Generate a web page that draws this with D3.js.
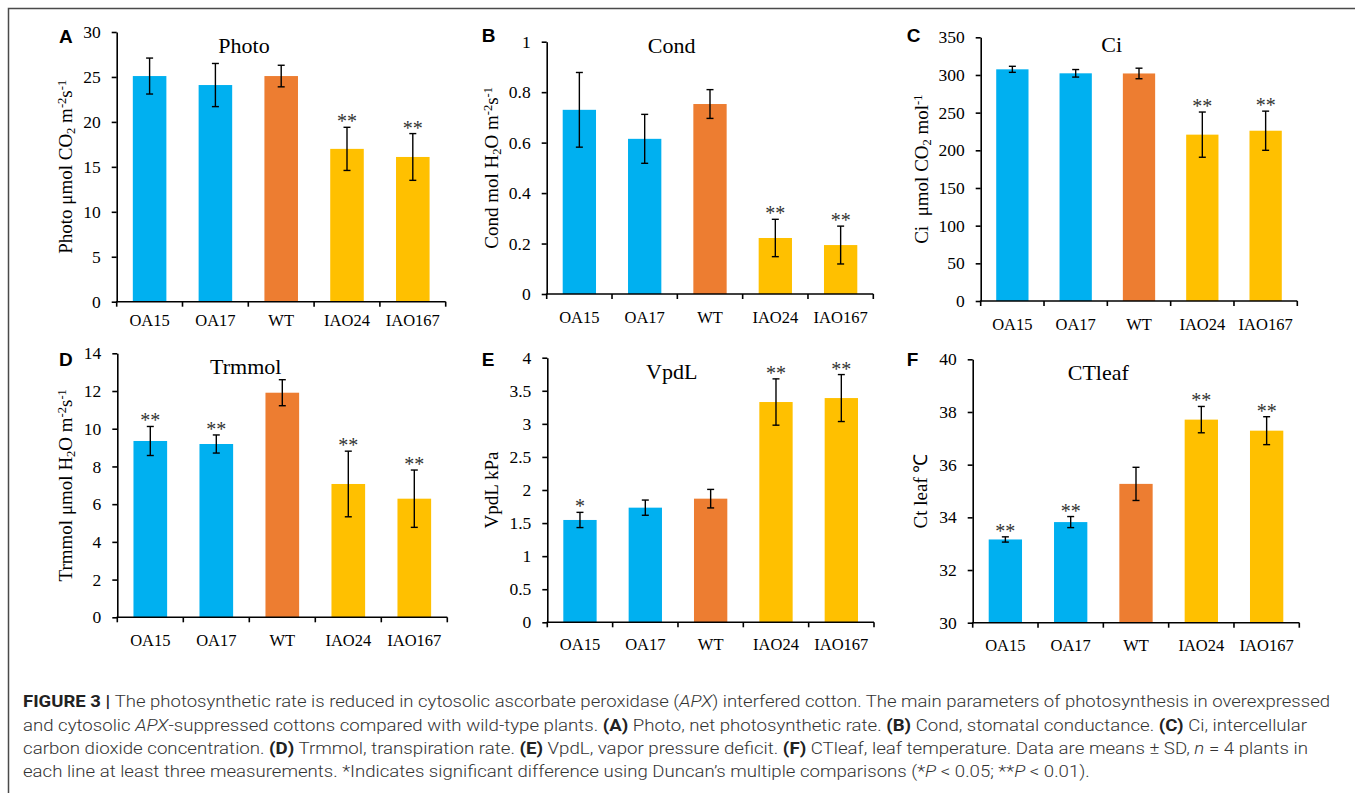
<!DOCTYPE html>
<html>
<head>
<meta charset="utf-8">
<script src="https://cdn.jsdelivr.net/npm/d3@7"></script>
<style>
  body { margin: 0; background: #fff; }
  svg text { font-family: "Liberation Serif", "Times New Roman", serif; }
</style>
</head>
<body>
<div id="graphic"><svg id="chart" width="1355" height="793"></svg></div>
<script>
// Data
var groups = ["OA15", "OA17", "WT", "IAO24", "IAO167"];
var groupColors = ["#00B0F0", "#00B0F0", "#ED7D31", "#FFC000", "#FFC000"];

var photoMean = [25.1, 24.1, 25.1, 17.0, 16.1];
var photoSd = [2.0, 2.4, 1.2, 2.4, 2.6];
var photoSig = ["", "", "", "**", "**"];
var photoTicks = [0, 5, 10, 15, 20, 25, 30];

var condMean = [0.73, 0.615, 0.753, 0.222, 0.194];
var condSd = [0.148, 0.097, 0.057, 0.074, 0.075];
var condSig = ["", "", "", "**", "**"];
var condTicks = [0, 0.2, 0.4, 0.6, 0.8, 1];

var ciMean = [307.5, 302.2, 302, 220.8, 226];
var ciSd = [4, 5, 7, 30, 26];
var ciSig = ["", "", "", "**", "**"];
var ciTicks = [0, 50, 100, 150, 200, 250, 300, 350];

var trMean = [9.35, 9.19, 11.91, 7.07, 6.29];
var trSd = [0.77, 0.48, 0.69, 1.74, 1.52];
var trSig = ["**", "**", "", "**", "**"];
var trTicks = [0, 2, 4, 6, 8, 10, 12, 14];

var vpdMean = [1.547, 1.733, 1.869, 3.33, 3.39];
var vpdSd = [0.115, 0.115, 0.14, 0.35, 0.355];
var vpdSig = ["*", "", "", "**", "**"];
var vpdTicks = [0, 0.5, 1, 1.5, 2, 2.5, 3, 3.5, 4];

var ctMean = [33.16, 33.82, 35.27, 37.71, 37.29];
var ctSd = [0.1, 0.21, 0.63, 0.5, 0.53];
var ctSig = ["**", "**", "", "**", "**"];
var ctTicks = [30, 32, 34, 36, 38, 40];

// Panel layout (pixel boxes of each plot area)
var panels = [
  { letter: "A", title: "Photo", mean: photoMean, sd: photoSd, sig: photoSig, ticks: photoTicks,
    box: { x0: 116.7, x1: 445.7, top: 32, zero: 301.7 }, titleX: 244, titleY: 53, letterX: 59, letterY: 43,
    labelX: 67, catY: 24,
    ylabel: [["Photo μmol CO"], ["2", "sub"], [" m"], ["-2", "sup"], ["s"], ["-1", "sup"]] },
  { letter: "B", title: "Cond", mean: condMean, sd: condSd, sig: condSig, ticks: condTicks,
    box: { x0: 546.7, x1: 873.3, top: 41.7, zero: 294 }, titleX: 671.7, titleY: 53, letterX: 481.7, letterY: 42,
    labelX: 493, catY: 29,
    ylabel: [["Cond mol H"], ["2", "sub"], ["O m"], ["-2", "sup"], ["s"], ["-1", "sup"]] },
  { letter: "C", title: "Ci", mean: ciMean, sd: ciSd, sig: ciSig, ticks: ciTicks,
    box: { x0: 980.7, x1: 1297.3, top: 37.3, zero: 301 }, titleX: 1111.7, titleY: 52, letterX: 906.7, letterY: 42,
    labelX: 923, catY: 29,
    ylabel: [["Ci\u00a0 μmol CO"], ["2", "sub"], [" mol"], ["-1", "sup"]] },
  { letter: "D", title: "Trmmol", mean: trMean, sd: trSd, sig: trSig, ticks: trTicks,
    box: { x0: 117.3, x1: 447.3, top: 353.3, zero: 617.3 }, titleX: 245.7, titleY: 374, letterX: 59, letterY: 366,
    labelX: 67, catY: 29,
    ylabel: [["Trmmol μmol H"], ["2", "sub"], ["O m"], ["-2", "sup"], ["s"], ["-1", "sup"]] },
  { letter: "E", title: "VpdL", mean: vpdMean, sd: vpdSd, sig: vpdSig, ticks: vpdTicks,
    box: { x0: 547.3, x1: 874, top: 357.7, zero: 622.3 }, titleX: 671.7, titleY: 379, letterX: 481.7, letterY: 366,
    labelX: 492.7, catY: 28,
    ylabel: [["VpdL kPa"]] },
  { letter: "F", title: "CTleaf", mean: ctMean, sd: ctSd, sig: ctSig, ticks: ctTicks,
    box: { x0: 972.7, x1: 1299.3, top: 359.3, zero: 622.7 }, titleX: 1098.3, titleY: 380, letterX: 906.7, letterY: 366,
    labelX: 922, catY: 28,
    ylabel: [["Ct leaf ℃"]] }
];

var svg = d3.select("#chart");

// Figure frame (top and left rule)
svg.append("path")
  .attr("d", "M8.5,793V8.5H1355")
  .attr("fill", "none")
  .attr("stroke", "#4a4a4a")
  .attr("stroke-width", 1.5);

panels.forEach(function(p) {
  var b = p.box;
  var g = svg.append("g");

  var x = d3.scaleBand().domain(groups).range([b.x0, b.x1]).padding(0);
  var y = d3.scaleLinear()
      .domain([p.ticks[0], p.ticks[p.ticks.length - 1]])
      .range([b.zero, b.top]);

  var barW = x.bandwidth() * 0.51;

  // Bars
  g.selectAll("rect.bar")
    .data(groups)
    .enter().append("rect")
      .attr("class", "bar")
      .attr("x", function(d) { return x(d) + (x.bandwidth() - barW) / 2; })
      .attr("width", barW)
      .attr("y", function(d, i) { return y(p.mean[i]); })
      .attr("height", function(d, i) { return b.zero - y(p.mean[i]); })
      .attr("fill", function(d, i) { return groupColors[i]; });

  // Error bars
  var eb = g.selectAll("g.err")
    .data(groups)
    .enter().append("g")
      .attr("class", "err")
      .attr("stroke", "#000")
      .attr("stroke-width", 1.4);

  eb.append("line")
    .attr("x1", function(d) { return x(d) + x.bandwidth() / 2; })
    .attr("x2", function(d) { return x(d) + x.bandwidth() / 2; })
    .attr("y1", function(d, i) { return y(p.mean[i] + p.sd[i]); })
    .attr("y2", function(d, i) { return y(p.mean[i] - p.sd[i]); });

  [1, -1].forEach(function(s) {
    eb.append("line")
      .attr("x1", function(d) { return x(d) + x.bandwidth() / 2 - 3.5; })
      .attr("x2", function(d) { return x(d) + x.bandwidth() / 2 + 3.5; })
      .attr("y1", function(d, i) { return y(p.mean[i] + s * p.sd[i]); })
      .attr("y2", function(d, i) { return y(p.mean[i] + s * p.sd[i]); });
  });

  // Significance marks
  g.selectAll("text.sig")
    .data(groups)
    .enter().append("text")
      .attr("class", "sig")
      .attr("x", function(d) { return x(d) + x.bandwidth() / 2; })
      .attr("y", function(d, i) { return y(p.mean[i] + p.sd[i]) + 1; })
      .attr("text-anchor", "middle")
      .attr("font-size", 20)
      .attr("fill", "#333")
      .text(function(d, i) { return p.sig[i]; });

  // Y axis
  var yAxis = g.append("g")
      .attr("transform", "translate(" + b.x0 + ",0)")
      .call(d3.axisLeft(y)
        .tickValues(p.ticks)
        .tickSize(5)
        .tickSizeOuter(0)
        .tickPadding(11)
        .tickFormat(d3.format("")));

  yAxis.selectAll("text")
    .attr("font-family", "Liberation Serif")
    .attr("font-size", 17.5)
    .attr("fill", "#000");
  yAxis.selectAll("line, path").attr("stroke", "#000").attr("stroke-width", 1.6);

  // X axis: labels at band centres, ticks at band edges
  var xAxis = g.append("g")
      .attr("transform", "translate(0," + b.zero + ")")
      .call(d3.axisBottom(x).tickSize(0));

  xAxis.select("path.domain").remove();
  xAxis.selectAll("text")
    .attr("dy", null)
    .attr("y", p.catY)
    .attr("font-family", "Liberation Serif")
    .attr("font-size", 16.5)
    .attr("fill", "#000");

  g.append("line")
    .attr("x1", b.x0 - 0.8).attr("x2", b.x1)
    .attr("y1", b.zero).attr("y2", b.zero)
    .attr("stroke", "#000").attr("stroke-width", 1.6);

  g.selectAll("line.xtick")
    .data(groups.concat(["end"]))
    .enter().append("line")
      .attr("class", "xtick")
      .attr("x1", function(d, i) { return b.x0 + i * x.bandwidth(); })
      .attr("x2", function(d, i) { return b.x0 + i * x.bandwidth(); })
      .attr("y1", b.zero)
      .attr("y2", b.zero + 5)
      .attr("stroke", "#000").attr("stroke-width", 1.6);

  // Title
  g.append("text")
    .attr("x", p.titleX).attr("y", p.titleY)
    .attr("text-anchor", "middle")
    .attr("font-size", 22)
    .text(p.title);

  // Panel letter
  g.append("text")
    .attr("x", p.letterX).attr("y", p.letterY)
    .style("font-family", "'Liberation Sans', Arial, sans-serif")
    .attr("font-weight", "bold")
    .attr("font-size", 19)
    .text(p.letter);

  // Y label
  var yl = g.append("text")
    .attr("transform", "translate(" + (p.labelX + 5) + "," + ((b.top + b.zero) / 2) + ") rotate(-90)")
    .attr("text-anchor", "middle")
    .attr("font-size", 19);

  p.ylabel.forEach(function(part) {
    var t = yl.append("tspan").text(part[0]);
    if (part[1] === "sub") t.attr("font-size", 12.5).attr("baseline-shift", "-25%");
    if (part[1] === "sup") t.attr("font-size", 12.5).attr("baseline-shift", "45%");
  });
});

// Caption
var captionLines = [
  [["FIGURE 3", "b"], [" | ", "b"], ["The photosynthetic rate is reduced in cytosolic ascorbate peroxidase ("], ["APX", "i"],
   [") interfered cotton. The main parameters of photosynthesis in overexpressed"]],
  [["and cytosolic "], ["APX", "i"], ["-suppressed cottons compared with wild-type plants. "], ["(A)", "b"],
   [" Photo, net photosynthetic rate. "], ["(B)", "b"], [" Cond, stomatal conductance. "], ["(C)", "b"], [" Ci, intercellular"]],
  [["carbon dioxide concentration. "], ["(D)", "b"], [" Trmmol, transpiration rate. "], ["(E)", "b"],
   [" VpdL, vapor pressure deficit. "], ["(F)", "b"], [" CTleaf, leaf temperature. Data are means ± SD, "], ["n", "i"],
   [" = 4 plants in"]],
  [["each line at least three measurements. *Indicates significant difference using Duncan’s multiple comparisons (*"],
   ["P", "i"], [" < 0.05; **"], ["P", "i"], [" < 0.01)."]]
];
var captionWidths = [1307, 1284, 1285, null];
var captionBase = [707, 731, 754, 777];

var ratios = [];
captionLines.forEach(function(line, li) {
  var t = svg.append("text")
    .attr("x", 23).attr("y", captionBase[li])
    .style("font-family", "Roboto, 'Liberation Sans', sans-serif")
    .attr("font-weight", 300)
    .attr("font-size", 16.5)
    .attr("fill", "#333");
  line.forEach(function(part) {
    var s = t.append("tspan").text(part[0]);
    if (part[1] === "b") s.attr("font-weight", 700).attr("fill", "#222");
    if (part[1] === "i") s.attr("font-style", "italic");
  });
  var natural = t.node().getComputedTextLength();
  if (captionWidths[li]) {
    ratios.push(captionWidths[li] / natural);
    t.attr("textLength", captionWidths[li]).attr("lengthAdjust", "spacingAndGlyphs");
  } else {
    var r = d3.mean(ratios);
    t.attr("textLength", natural * r).attr("lengthAdjust", "spacingAndGlyphs");
  }
});
</script>
</body>
</html>
